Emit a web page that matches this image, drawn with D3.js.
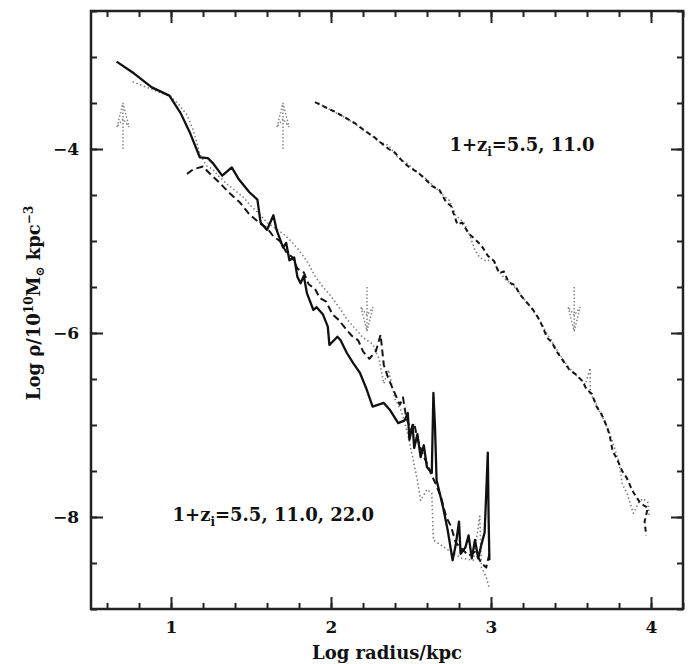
<!DOCTYPE html>
<html>
<head>
<meta charset="utf-8">
<script src="https://cdn.jsdelivr.net/npm/d3@7"></script>
<style>
  body { margin: 0; background: #fff; }
  svg text { font-family: "DejaVu Serif", "Liberation Serif", serif; fill: #111; }
</style>
</head>
<body>
<script>
// log radius / log density
var solidL = [[0.66,-3.05],[0.77,-3.18],[0.88,-3.33],[0.99,-3.42],[1.06,-3.61],[1.12,-3.83],[1.18,-4.09],[1.23,-4.10],
  [1.26,-4.15],[1.32,-4.29],[1.38,-4.20],[1.42,-4.32],[1.49,-4.47],[1.54,-4.55],[1.56,-4.80],[1.60,-4.88],[1.64,-4.72],
  [1.66,-4.88],[1.70,-5.07],[1.72,-5.02],[1.74,-5.21],[1.77,-5.18],[1.79,-5.39],[1.81,-5.46],[1.83,-5.38],[1.85,-5.57],
  [1.89,-5.75],[1.91,-5.72],[1.95,-5.80],[1.98,-5.93],[1.99,-6.13],[2.04,-6.04],[2.06,-6.08],[2.10,-6.22],[2.14,-6.33],
  [2.18,-6.43],[2.22,-6.60],[2.26,-6.80],[2.33,-6.76],[2.37,-6.84],[2.42,-6.98],[2.46,-6.95],[2.48,-6.87],[2.49,-7.16],
  [2.51,-7.00],[2.52,-7.25],[2.54,-7.10],[2.56,-7.35],[2.58,-7.22],[2.60,-7.46],[2.63,-7.52],[2.64,-6.65],[2.65,-7.02],
  [2.66,-7.60],[2.70,-7.89],[2.73,-8.15],[2.76,-8.47],[2.78,-8.30],[2.80,-8.05],[2.81,-8.40],[2.84,-8.33],[2.86,-8.20],
  [2.88,-8.45],[2.90,-8.25],[2.92,-8.45],[2.94,-8.30],[2.96,-8.17],[2.97,-7.75],[2.98,-7.30],[2.985,-8.0],[2.99,-8.47]];

var dashedL = [[1.10,-4.27],[1.14,-4.22],[1.20,-4.19],[1.25,-4.28],[1.30,-4.36],[1.36,-4.47],[1.43,-4.58],[1.49,-4.71],
  [1.55,-4.80],[1.60,-4.86],[1.64,-4.95],[1.68,-5.00],[1.72,-5.12],[1.76,-5.18],[1.79,-5.30],[1.83,-5.34],[1.86,-5.47],
  [1.90,-5.52],[1.93,-5.62],[1.97,-5.66],[2.01,-5.80],[2.05,-5.86],[2.09,-5.95],[2.13,-6.03],[2.17,-6.08],[2.20,-6.20],
  [2.24,-6.28],[2.28,-6.20],[2.31,-6.02],[2.33,-6.35],[2.36,-6.50],[2.39,-6.62],[2.43,-6.78],[2.45,-6.70],[2.47,-6.92],
  [2.50,-7.05],[2.52,-6.98],[2.54,-7.15],[2.57,-7.30],[2.60,-7.42],[2.63,-7.55],[2.66,-7.66],[2.69,-7.80],[2.72,-8.00],
  [2.75,-8.10],[2.78,-8.28],[2.82,-8.35],[2.86,-8.42],[2.90,-8.38],[2.94,-8.50],[2.97,-8.55],[2.99,-8.40]];

var dottedL = [[0.76,-3.27],[0.85,-3.33],[0.95,-3.40],[1.00,-3.43],[1.05,-3.52],[1.10,-3.63],[1.14,-3.80],[1.18,-4.05],
  [1.22,-4.18],[1.26,-4.22],[1.30,-4.30],[1.35,-4.38],[1.40,-4.45],[1.45,-4.52],[1.50,-4.62],[1.55,-4.70],[1.60,-4.80],
  [1.65,-4.86],[1.70,-4.92],[1.75,-5.00],[1.80,-5.10],[1.85,-5.22],[1.90,-5.38],[1.95,-5.50],[2.00,-5.60],[2.05,-5.72],
  [2.10,-5.85],[2.15,-5.95],[2.20,-6.05],[2.26,-6.12],[2.30,-6.28],[2.33,-6.55],[2.36,-6.40],[2.40,-6.72],[2.44,-6.85],
  [2.48,-7.10],[2.51,-7.35],[2.54,-7.60],[2.56,-7.82],[2.60,-7.70],[2.63,-7.74],[2.64,-8.25],[2.70,-8.32],[2.75,-8.38],
  [2.82,-8.45],[2.89,-8.47],[2.93,-7.99],[2.94,-8.55],[2.97,-8.65],[2.99,-8.78]];

var dashedR = [[1.90,-3.49],[1.97,-3.55],[2.03,-3.60],[2.09,-3.66],[2.15,-3.72],[2.21,-3.80],[2.27,-3.87],[2.31,-3.93],
  [2.36,-4.00],[2.40,-4.04],[2.45,-4.14],[2.49,-4.20],[2.54,-4.25],[2.59,-4.33],[2.63,-4.40],[2.68,-4.45],[2.72,-4.58],
  [2.75,-4.62],[2.79,-4.82],[2.82,-4.80],[2.86,-4.92],[2.90,-4.98],[2.94,-5.05],[2.98,-5.16],[3.02,-5.22],[3.05,-5.35],
  [3.08,-5.33],[3.11,-5.45],[3.15,-5.48],[3.18,-5.58],[3.22,-5.66],[3.26,-5.74],[3.29,-5.82],[3.32,-5.92],[3.35,-6.05],
  [3.38,-6.10],[3.41,-6.20],[3.45,-6.30],[3.49,-6.40],[3.53,-6.45],[3.57,-6.52],[3.60,-6.62],[3.63,-6.66],[3.66,-6.80],
  [3.69,-6.88],[3.72,-7.00],[3.74,-7.10],[3.76,-7.28],[3.79,-7.38],[3.82,-7.50],[3.85,-7.58],[3.88,-7.70],[3.90,-7.76],
  [3.93,-7.84],[3.96,-7.88],[3.98,-7.90],[3.96,-8.05],[3.97,-8.20]];

var dottedR = [[1.92,-3.50],[2.00,-3.58],[2.08,-3.65],[2.16,-3.74],[2.24,-3.84],[2.30,-3.92],[2.36,-3.96],[2.42,-4.10],
  [2.48,-4.16],[2.53,-4.24],[2.58,-4.30],[2.64,-4.40],[2.70,-4.50],[2.74,-4.56],[2.78,-4.72],[2.83,-4.80],[2.87,-4.95],
  [2.90,-5.10],[2.93,-5.18],[2.97,-5.22],[3.01,-5.20],[3.04,-5.30],[3.08,-5.40],[3.12,-5.46],[3.16,-5.52],[3.20,-5.62],
  [3.24,-5.70],[3.28,-5.80],[3.31,-5.88],[3.34,-5.98],[3.37,-6.06],[3.41,-6.18],[3.44,-6.26],[3.48,-6.36],[3.52,-6.44],
  [3.56,-6.50],[3.59,-6.56],[3.62,-6.38],[3.62,-6.66],[3.65,-6.74],[3.68,-6.86],[3.71,-6.96],[3.74,-7.08],[3.77,-7.24],
  [3.80,-7.40],[3.82,-7.64],[3.85,-7.74],[3.89,-7.96],[3.92,-7.85],[3.95,-7.80],[3.98,-7.84],[3.99,-8.00]];

// marker arrows: x, tail, tip
var arrowX = [0.7, 1.7, 2.225, 3.52];
var arrowFrom = [-4.0, -4.0, -5.5, -5.5];
var arrowTo = [-3.5, -3.5, -5.98, -5.98];

var xMajor = [1, 2, 3, 4];
var xMinor = d3.range(0.6, 4.21, 0.2);
var yMajor = [-8, -6, -4];
var yMinor = d3.range(-9, -2.49, 0.5);

var labelLeft = "5.5, 11.0, 22.0";
var labelRight = "5.5, 11.0";

var W = 694, H = 664;
var margin = {left: 91, right: 11, top: 11, bottom: 55};

var svg = d3.select("body").append("svg")
  .attr("width", W)
  .attr("height", H);

var x = d3.scaleLinear().domain([0.5, 4.2]).range([margin.left, W - margin.right]);
var y = d3.scaleLinear().domain([-9, -2.5]).range([H - margin.bottom, margin.top]);

var line = d3.line()
  .x(function(d) { return x(d[0]); })
  .y(function(d) { return y(d[1]); });

// curves
function curve(data, color, width, dash) {
  svg.append("path")
    .datum(data)
    .attr("d", line)
    .attr("fill", "none")
    .attr("stroke", color)
    .attr("stroke-width", width)
    .attr("stroke-linejoin", "round")
    .attr("stroke-dasharray", dash);
}
curve(dottedL, "#808080", 1.6, "1.5,2.5");
curve(dashedL, "#151515", 2, "7,4");
curve(solidL, "#111", 2.3, null);
curve(dottedR, "#808080", 1.6, "1.5,2.5");
curve(dashedR, "#151515", 2, "5,3.5");

// arrows
arrowX.forEach(function(ax, i) {
  var px = x(ax), t0 = y(arrowFrom[i]), t1 = y(arrowTo[i]);
  var dir = t1 < t0 ? 1 : -1;
  var g = svg.append("g")
    .attr("fill", "none")
    .attr("stroke", "#888")
    .attr("stroke-width", 1.5)
    .attr("stroke-dasharray", "1.5,2");
  g.append("line").attr("x1", px).attr("x2", px).attr("y1", t0).attr("y2", t1);
  g.append("path")
    .attr("d", "M" + (px - 6) + "," + (t1 + dir * 24) + "L" + px + "," + t1 + "L" + (px + 6) + "," + (t1 + dir * 24) +
      "L" + px + "," + (t1 + dir * 16) + "Z");
});

// frame and ticks
function styleAxis(g) {
  g.select(".domain").remove();
  g.selectAll("line").attr("stroke", "#222").attr("stroke-width", 2);
  g.selectAll("text").style("font-size", "17px").style("font-weight", "bold").attr("fill", "#111");
}
var bottom = H - margin.bottom, right = W - margin.right;

svg.append("g").attr("transform", "translate(0," + bottom + ")")
  .call(d3.axisBottom(x).tickValues(xMinor).tickSize(-6).tickFormat("")).call(styleAxis);
svg.append("g").attr("transform", "translate(0," + bottom + ")")
  .call(d3.axisBottom(x).tickValues(xMajor).tickSize(-12).tickPadding(12).tickFormat(d3.format("d"))).call(styleAxis);
svg.append("g").attr("transform", "translate(0," + margin.top + ")")
  .call(d3.axisTop(x).tickValues(xMinor).tickSize(-6).tickFormat("")).call(styleAxis);
svg.append("g").attr("transform", "translate(0," + margin.top + ")")
  .call(d3.axisTop(x).tickValues(xMajor).tickSize(-12).tickFormat("")).call(styleAxis);

svg.append("g").attr("transform", "translate(" + margin.left + ",0)")
  .call(d3.axisLeft(y).tickValues(yMinor).tickSize(-6).tickFormat("")).call(styleAxis);
svg.append("g").attr("transform", "translate(" + margin.left + ",0)")
  .call(d3.axisLeft(y).tickValues(yMajor).tickSize(-12).tickPadding(12).tickFormat(d3.format("d"))).call(styleAxis);
svg.append("g").attr("transform", "translate(" + right + ",0)")
  .call(d3.axisRight(y).tickValues(yMinor).tickSize(-6).tickFormat("")).call(styleAxis);
svg.append("g").attr("transform", "translate(" + right + ",0)")
  .call(d3.axisRight(y).tickValues(yMajor).tickSize(-12).tickFormat("")).call(styleAxis);

svg.append("rect")
  .attr("x", margin.left).attr("y", margin.top)
  .attr("width", right - margin.left).attr("height", bottom - margin.top)
  .attr("fill", "none").attr("stroke", "#222").attr("stroke-width", 2.5);

// axis titles
svg.append("text")
  .attr("x", (margin.left + right) / 2).attr("y", H - 5)
  .attr("text-anchor", "middle")
  .style("font-size", "18px").style("font-weight", "bold")
  .text("Log radius/kpc");

var yl = svg.append("text")
  .attr("transform", "translate(40,303) rotate(-90)")
  .attr("text-anchor", "middle")
  .style("font-size", "18px").style("font-weight", "bold");
yl.append("tspan").text("Log \u03c1/10");
yl.append("tspan").attr("dy", -7).style("font-size", "12px").text("10");
yl.append("tspan").attr("dy", 7).text("M");
yl.append("tspan").attr("dy", 4).style("font-size", "12px").text("\u2299");
yl.append("tspan").attr("dy", -4).text(" kpc");
yl.append("tspan").attr("dy", -7).style("font-size", "12px").text("\u22123");

// annotations
function note(xv, yv, value) {
  var t = svg.append("text")
    .attr("x", x(xv)).attr("y", y(yv))
    .style("font-size", "18px").style("font-weight", "bold");
  t.append("tspan").text("1+z");
  t.append("tspan").attr("dy", 5).style("font-size", "12px").text("i");
  t.append("tspan").attr("dy", -5).text("=" + value);
}
note(2.74, -4.02, labelRight);
note(1.01, -8.04, labelLeft);
</script>
</body>
</html>
